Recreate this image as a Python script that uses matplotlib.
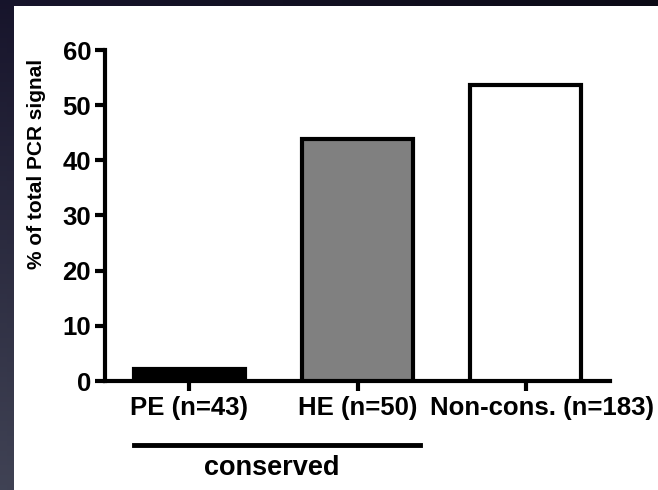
import numpy as np
import matplotlib
matplotlib.use("Agg")
import matplotlib.pyplot as plt
import matplotlib.transforms as mtransforms
from matplotlib.patches import Rectangle

# data
categories = ["PE (n=43)", "HE (n=50)", "Non-cons. (n=183)"]
values = [2.2, 43.9, 53.6]
bar_colors = ["#000000", "#808080", "#ffffff"]
y_ticks = [0, 10, 20, 30, 40, 50, 60]
group_label = "conserved"

plt.rcParams['font.family'] = ['Liberation Sans', 'DejaVu Sans']
plt.rcParams['font.weight'] = 'bold'

W, H = 658, 490
fig = plt.figure(figsize=(W / 100, H / 100), dpi=100)

# dark slide background with a soft gradient, white panel on top
bg = fig.add_axes([0, 0, 1, 1], zorder=-10)
yy, xx = np.mgrid[0:1:100j, 0:1:100j]
top = np.array([0.09, 0.08, 0.17])
bottom = np.array([0.25, 0.26, 0.33])
grad = top + (bottom - top) * yy[..., None]
grad = grad * (1 - 0.5 * xx[..., None])
bg.imshow(grad, aspect='auto', extent=[0, 1, 0, 1], origin='upper')
bg.set_axis_off()
fig.patches.append(Rectangle((14 / W, 0), 1 - 14 / W, 1 - 6 / H,
                             transform=fig.transFigure, facecolor='white',
                             edgecolor='none', zorder=-5))

ax = fig.add_axes([105 / W, 1 - 381 / H, 505 / W, 331 / H])
ax.patch.set_alpha(0)

x = np.arange(len(categories))
ax.bar(x, values, width=0.66, color=bar_colors, edgecolor='black',
       linewidth=3, zorder=3)

ax.set_xlim(-0.5, 2.5)
ax.set_ylim(0, 60)
ax.set_yticks(y_ticks)
ax.set_xticks(x)
ax.set_xticklabels(categories)

for side in ['top', 'right']:
    ax.spines[side].set_visible(False)
for side in ['left', 'bottom']:
    ax.spines[side].set_linewidth(3)
ax.tick_params(axis='both', width=3, length=7, labelsize=18.5)
ax.tick_params(axis='x', pad=4)
ax.tick_params(axis='y', pad=3)

# last label sits a bit right of its tick, up against the panel edge
lab = ax.get_xticklabels()[-1]
lab.set_transform(lab.get_transform() +
                  mtransforms.ScaledTranslation(0.16, 0, fig.dpi_scale_trans))

fig.text(37 / W, 1 - 164 / H, "% of total PCR signal", rotation=90,
         ha='center', va='center', fontsize=15, fontweight='bold')

# bracket under the conserved groups
trans = mtransforms.blended_transform_factory(ax.transData, fig.transFigure)
ax.plot([-0.33, 1.37], [1 - 445 / H, 1 - 445 / H], color='black', lw=3.5,
        transform=trans, clip_on=False)
ax.text(0.49, 1 - 468 / H, group_label, transform=trans, ha='center',
        va='center', fontsize=19.5, fontweight='bold')

fig.savefig("out.png", dpi=100)
